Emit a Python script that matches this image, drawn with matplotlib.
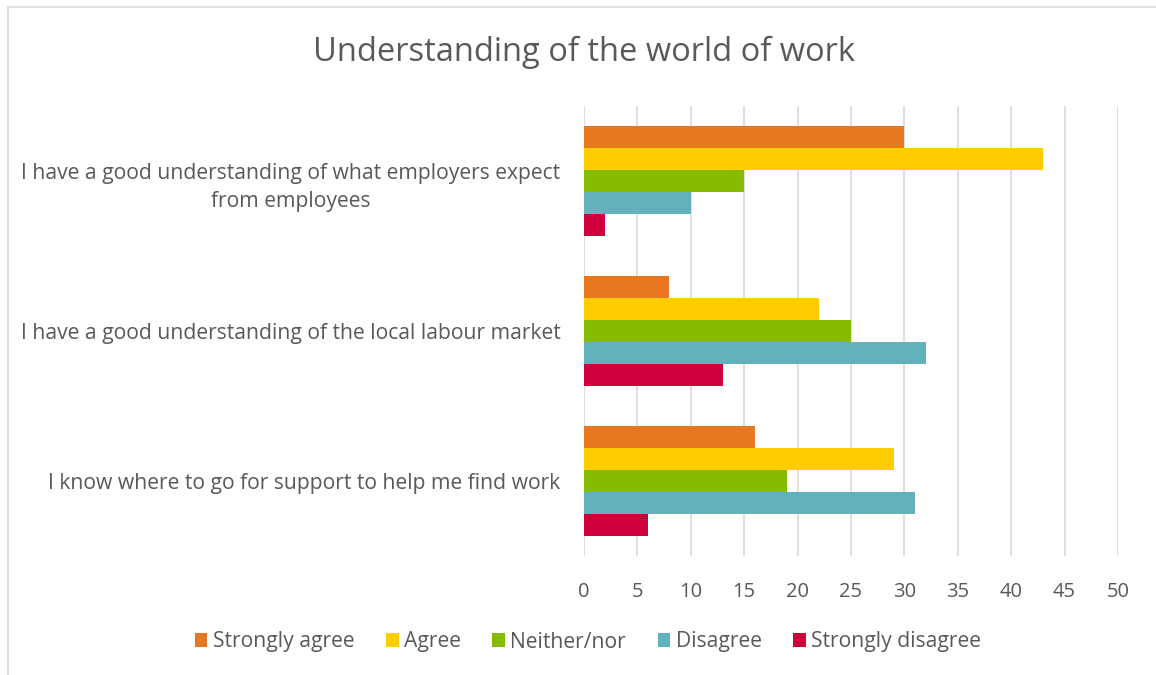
import matplotlib.pyplot as plt
import numpy as np
from matplotlib.patches import Rectangle

categories = [
    "I have a good understanding of what employers expect\nfrom employees",
    "I have a good understanding of the local labour market",
    "I know where to go for support to help me find work",
]
series = ["Strongly agree", "Agree", "Neither/nor", "Disagree", "Strongly disagree"]
strongly_agree = [30, 8, 16]
agree = [43, 22, 29]
neither = [15, 25, 19]
disagree = [10, 32, 31]
strongly_disagree = [2, 13, 6]
colors = ["#E87722", "#FFCC00", "#86BC00", "#62B1BD", "#D0003C"]

TXT = "#595959"
plt.rcParams["font.family"] = ["Open Sans", "DejaVu Sans"]

fig = plt.figure(figsize=(11.56, 6.75), dpi=100)
ax = fig.add_axes([584 / 1156, 1 - 556 / 675, 534 / 1156, 450 / 675])

values = [strongly_agree, agree, neither, disagree, strongly_disagree]
n = len(series)
h = 0.733 / n
y = np.arange(len(categories))
for i, (name, vals, c) in enumerate(zip(series, values, colors)):
    off = -0.733 / 2 + h * (i + 0.5)
    ax.barh(y + off, vals, height=h, color=c, label=name, zorder=2)

ax.set_ylim(len(categories) - 0.5, -0.5)
ax.set_xlim(0, 50)
ax.set_xticks(range(0, 51, 5))
ax.grid(axis="x", color="#D9D9D9", linewidth=1.2, zorder=0)
for s in ax.spines.values():
    s.set_visible(False)
ax.tick_params(axis="x", length=0, labelsize=14.5, colors=TXT, pad=19)
ax.set_yticks(y)
ax.set_yticklabels(categories, fontsize=15.2, multialignment="center", linespacing=1.45)
ax.tick_params(axis="y", length=0, colors=TXT, pad=17)

fig.text(584 / 1156, 1 - 52 / 675, "Understanding of the world of work",
         ha="center", va="center", fontsize=23.5, color=TXT)

leg = fig.legend(loc="center", bbox_to_anchor=(588 / 1156, 1 - 642 / 675), ncol=5,
                 frameon=False, fontsize=15.2, handlelength=0.6, handleheight=0.6,
                 handletextpad=0.25, columnspacing=1.5, labelcolor=TXT)

# thin outer frame of the chart area
fig.patches.append(Rectangle((8 / 1156, -0.01), 1.1, 1 - 7 / 675 + 0.01,
                             transform=fig.transFigure, fill=False,
                             edgecolor="#D9D9D9", linewidth=1.2))

fig.savefig("out.png", dpi=100)
